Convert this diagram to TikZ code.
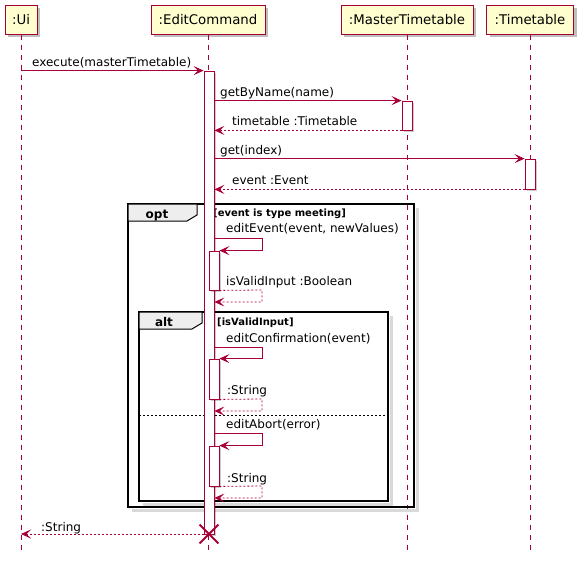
\documentclass[tikz,border=0pt]{standalone}
\usepackage{fontspec}
\setmainfont{DejaVu Sans}
\usetikzlibrary{arrows.meta,positioning,shadows,shapes.misc}
\definecolor{plum}{HTML}{A80036}
\definecolor{cream}{HTML}{FEFECE}
\definecolor{tabgray}{HTML}{EEEEEE}

\begin{document}
\begin{tikzpicture}[x=1pt,y=-1pt,
  part/.style={draw=plum,fill=cream,line width=1pt,minimum height=29pt,inner sep=0pt,
    font=\fontsize{13.3}{15}\selectfont,
    drop shadow={shadow xshift=3pt,shadow yshift=-3pt,opacity=.25,fill=black}},
  life/.style={draw=plum,line width=.8pt,dash pattern=on 5pt off 5pt},
  act/.style={draw=plum,fill=white,line width=.8pt,minimum width=10pt,inner sep=0pt,
    drop shadow={shadow xshift=2pt,shadow yshift=-2pt,opacity=.2,fill=black}},
  msg/.style={draw=plum,line width=.8pt,-{Stealth[length=10pt,width=9pt,inset=4.5pt]}},
  ret/.style={msg,dash pattern=on 2pt off 2pt},
  lbl/.style={font=\fontsize{12}{14}\selectfont,anchor=base west,inner sep=0pt},
  guard/.style={font=\bfseries\fontsize{10}{12}\selectfont,anchor=base west,inner sep=0pt},
  kw/.style={font=\bfseries\fontsize{12}{14}\selectfont,anchor=base,inner sep=0pt},
  frm/.style={draw=black,line width=1.6pt},
  frmshadow/.style={draw=black!15,line width=3pt},
  tab/.style={draw=black,fill=tabgray,line width=1pt}]
\useasboundingbox (0,0) rectangle (584,560);

\node[part,minimum width=32pt] (ui) at (21,19.5) {:Ui};
\node[part,minimum width=114pt] (ec) at (208,19.5) {:EditCommand};
\node[part,minimum width=132pt] (mt) at (407,19.5) {:MasterTimetable};
\node[part,minimum width=87pt] (tt) at (530,19.5) {:Timetable};

\coordinate (uiend) at (21,553);
\coordinate (ecend) at (208,553);
\coordinate (mtend) at (407,553);
\coordinate (ttend) at (530,553);
\draw[life] (ui) -- (uiend);
\draw[life] (ec) -- (ecend);
\draw[life] (mt) -- (mtend);
\draw[life] (tt) -- (ttend);

\draw[frmshadow] (417,208) -- (417,510) -- (132,510);
\draw[frm] (128,204) rectangle (414,507);
\draw[tab] (128,204) -- (197,204) -- (197,215) -- (187,221) -- (128,221) -- cycle;
\node[kw] (opt) at (157,218) {opt};
\node[guard] (optg) at (213,216.5) {[event is type meeting]};

\draw[frmshadow] (391,316) -- (391,504) -- (143,504);
\draw[frm] (139,312) rectangle (388,501);
\draw[tab] (139,312) -- (202,312) -- (202,323) -- (192,329) -- (139,329) -- cycle;
\node[kw] (alt) at (164,326) {alt};
\node[guard] (altg) at (217,325.5) {[isValidInput]};
\draw[line width=.8pt,dash pattern=on 2pt off 2pt] (139,415) -- (388,415);

\node[act,minimum height=463pt] (ec0) at (209,302.5) {};
\node[act,minimum height=29pt] (mt1) at (407,115.5) {};
\node[act,minimum height=30pt] (tt1) at (530,174) {};
\node[act,minimum height=39pt] (ec1) at (214,270.5) {};
\node[act,minimum height=40pt] (ec2) at (214,379) {};
\node[act,minimum height=40pt] (ec3) at (214,466) {};

\draw[msg] (ui |- ec0.north) -- (ec0.north west);
\node[lbl] (m1) at (32,66) {execute(masterTimetable)};

\draw[msg] (ec0.east |- mt1.north) -- (mt1.north west);
\node[lbl] (m2) at (220,96) {getByName(name)};
\draw[ret] (mt1.south west) -- (ec0.east |- mt1.south);
\node[lbl] (m3) at (232,125) {timetable :Timetable};

\draw[msg] (ec0.east |- tt1.north) -- (tt1.north west);
\node[lbl] (m4) at (220,154) {get(index)};
\draw[ret] (tt1.south west) -- (ec0.east |- tt1.south);
\node[lbl] (m5) at (232,184) {event :Event};

\draw[msg] (ec0.east |- 0,238) -- (262,238) |- (ec1.north east);
\node[lbl] (m6) at (226,232) {editEvent(event, newValues)};
\draw[ret] (ec1.south east) -- (262,290) |- (ec0.east |- 0,302);
\node[lbl] (m7) at (226,285) {isValidInput :Boolean};

\draw[msg] (ec0.east |- 0,347) -- (262,347) |- (ec2.north east);
\node[lbl] (m8) at (226,342) {editConfirmation(event)};
\draw[ret] (ec2.south east) -- (262,399) |- (ec0.east |- 0,411);
\node[lbl] (m9) at (227,394) {:String};

\draw[msg] (ec0.east |- 0,433) -- (262,433) |- (ec3.north east);
\node[lbl] (m10) at (226,428) {editAbort(error)};
\draw[ret] (ec3.south east) -- (262,486) |- (ec0.east |- 0,498);
\node[lbl] (m11) at (227,482) {:String};

\node[cross out,draw=plum,line width=1.8pt,minimum size=17pt,inner sep=0pt] (kill) at (209,534) {};
\draw[ret] (ec0.west |- kill) -- (ui |- kill);
\node[lbl] (m12) at (41,531) {:String};
\end{tikzpicture}
\end{document}
